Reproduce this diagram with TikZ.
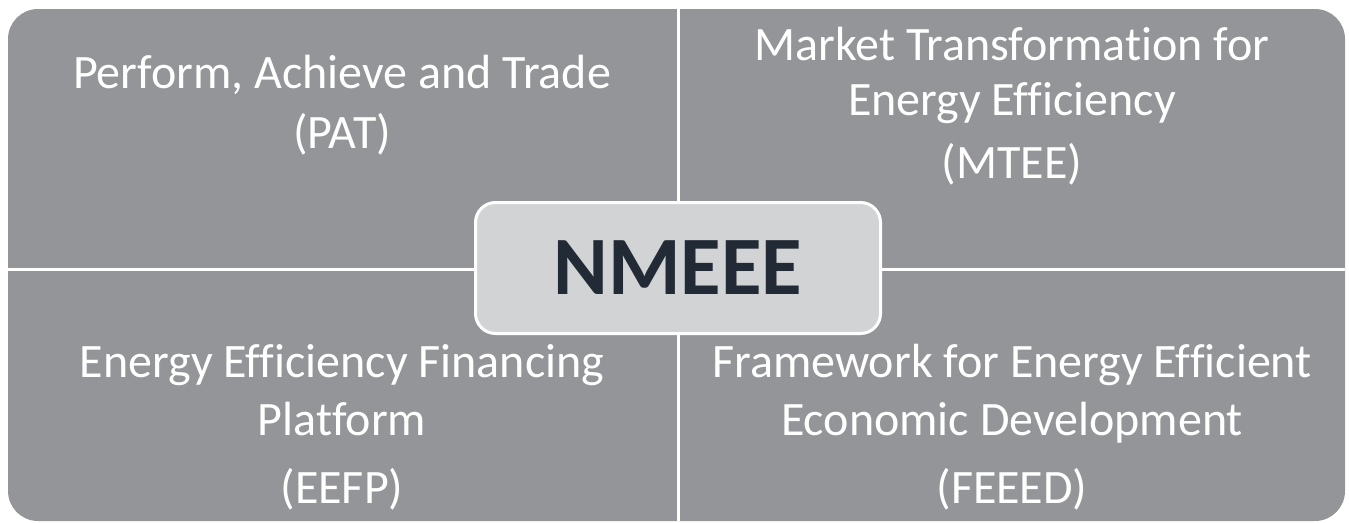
\documentclass[tikz,border=0pt]{standalone}
\usepackage{fontspec}
\setmainfont[Ligatures=NoCommon]{Carlito}
\usetikzlibrary{positioning}
\definecolor{quadgray}{HTML}{939598}
\definecolor{hubgray}{HTML}{D1D3D4}
\definecolor{hubtext}{HTML}{222A36}

\begin{document}
\begin{tikzpicture}[x=1pt,y=-1pt]
\tikzstyle{every node}+=[inner sep=0pt]
\tikzstyle{quadtext}=[text=white, font=\fontsize{48}{56}\selectfont, anchor=base]
\tikzstyle{hubbox}=[fill=hubgray, draw=white, line width=3, rounded corners=20,
  minimum width=405, minimum height=131, text=hubtext,
  font=\bfseries\fontsize{83}{92}\selectfont]
\useasboundingbox (0,0) rectangle (1349,522);
% the four quadrants
\fill [quadgray, rounded corners=30] (8,9) rectangle (1345,521);
\draw [white, line width=3] (678,9) -- (678,521);
\draw [white, line width=3] (8,269) -- (1345,269);
% top left
\node [quadtext] (patA) at (342,88) {Perform, Achieve and Trade};
\node [quadtext] (patB) at (342,148) {(PAT)};
% top right
\node [quadtext] (mteeA) at (1012,60) {Market Transformation for};
\node [quadtext] (mteeB) at (1012,115) {Energy Efficiency};
\node [quadtext] (mteeC) at (1012,178) {(MTEE)};
% bottom left
\node [quadtext] (eefpA) at (342,377) {Energy Efficiency Financing};
\node [quadtext] (eefpB) at (342,435) {Platform};
\node [quadtext] (eefpC) at (342,503) {(EEFP)};
% bottom right
\node [quadtext] (feeedA) at (1012,377) {Framework for Energy Efficient};
\node [quadtext] (feeedB) at (1012,435) {Economic Development};
\node [quadtext] (feeedC) at (1012,503) {(FEEED)};
% centre
\node [hubbox] (hub) at (678,268) {NMEEE};
\end{tikzpicture}
\end{document}
